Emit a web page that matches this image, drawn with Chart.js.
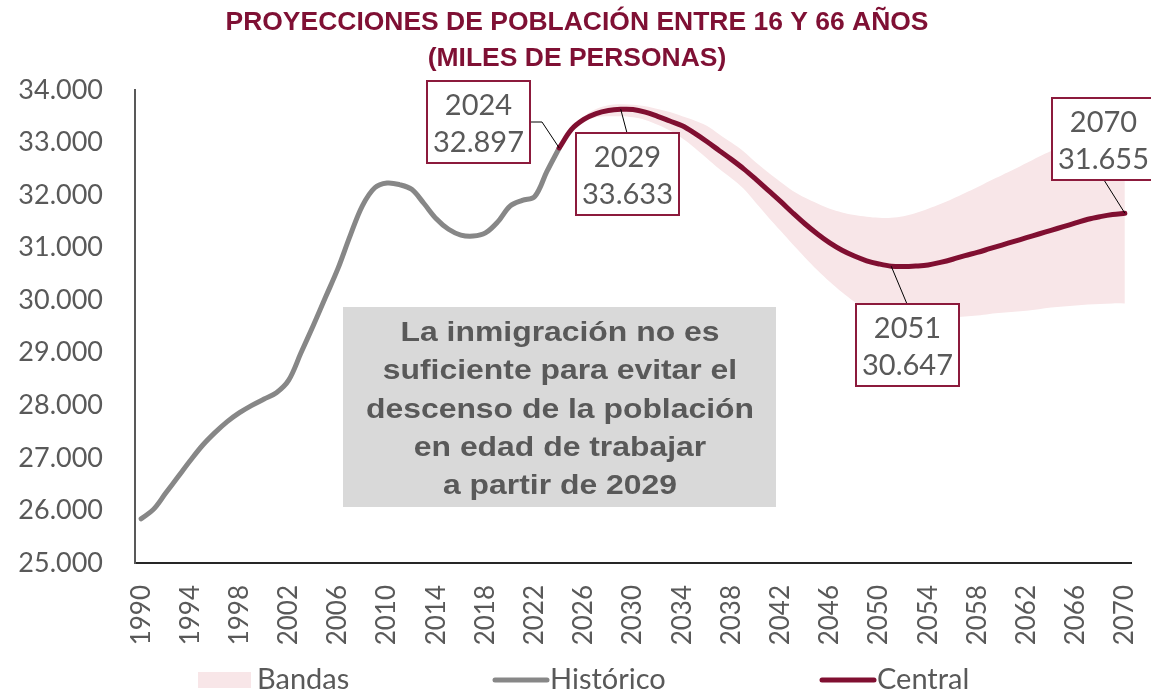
<!DOCTYPE html>
<html>
<head>
<meta charset="utf-8">
<script src="https://cdn.jsdelivr.net/npm/chart.js@4.4.1/dist/chart.umd.min.js"></script>
<style>
  body { margin: 0; background: #fff; }
  #wrap { width: 1151px; height: 691px; position: relative; }
</style>
</head>
<body>
<div id="wrap"><canvas id="poblacion"></canvas></div>
<script>
// anios del eje
var years = [1990, 1991, 1992, 1993, 1994, 1995, 1996, 1997, 1998, 1999,
             2000, 2001, 2002, 2003, 2004, 2005, 2006, 2007, 2008, 2009,
             2010, 2011, 2012, 2013, 2014, 2015, 2016, 2017, 2018, 2019,
             2020, 2021, 2022, 2023, 2024, 2025, 2026, 2027, 2028, 2029,
             2030, 2031, 2032, 2033, 2034, 2035, 2036, 2037, 2038, 2039,
             2040, 2041, 2042, 2043, 2044, 2045, 2046, 2047, 2048, 2049,
             2050, 2051, 2052, 2053, 2054, 2055, 2056, 2057, 2058, 2059,
             2060, 2061, 2062, 2063, 2064, 2065, 2066, 2067, 2068, 2069, 2070];

// Historico 1990-2024 (miles de personas)
var historico = [25840, 26020, 26330, 26640, 26950, 27240, 27480, 27690, 27860, 28000,
                 28120, 28240, 28480, 29000, 29520, 30060, 30600, 31230, 31800, 32140,
                 32230, 32200, 32110, 31840, 31550, 31350, 31240, 31220, 31280, 31490,
                 31790, 31900, 31970, 32450, 32897];

// Escenario central 2024-2070
var central = [32897, 33250, 33440, 33550, 33610, 33633, 33630, 33580, 33500, 33410,
               33320, 33180, 33020, 32850, 32680, 32500, 32300, 32090, 31880, 31660,
               31450, 31260, 31090, 30950, 30840, 30750, 30690, 30647, 30640, 30650,
               30670, 30720, 30780, 30850, 30910, 30980, 31050, 31120, 31190, 31260,
               31330, 31400, 31470, 31540, 31590, 31630, 31655];

// Bandas 2024-2070
var bandaSup = [32897, 33280, 33500, 33640, 33710, 33730, 33720, 33690, 33640, 33580,
                33500, 33420, 33320, 33160, 33000, 32830, 32620, 32430, 32250, 32080,
                31950, 31840, 31740, 31670, 31620, 31590, 31570, 31570, 31600, 31660,
                31740, 31830, 31930, 32040, 32150, 32270, 32380, 32490, 32610, 32730,
                32840, 32950, 33050, 33130, 33190, 33240, 33270];
var bandaInf = [32897, 33220, 33400, 33480, 33500, 33500, 33480, 33430, 33340, 33230,
                33080, 32900, 32700, 32500, 32320, 32120, 31850, 31580, 31320, 31060,
                30810, 30570, 30350, 30150, 29970, 29820, 29710, 29650, 29630, 29630,
                29640, 29660, 29670, 29690, 29710, 29740, 29760, 29780, 29800, 29830,
                29860, 29880, 29900, 29920, 29930, 29940, 29940];

// etiquetas de datos
var etiquetasAnios = [2024, 2029, 2051, 2070];
var etiquetasTexto = ['32.897', '33.633', '30.647', '31.655'];

var granate = '#800f31';
var gris = '#878787';
var rosa = '#f8e6e8';
var textoGris = '#595959';

function rellenar(valores, desde) {
  var out = [];
  for (var i = 0; i < years.length; i++) {
    var k = years[i] - desde;
    out.push(k >= 0 && k < valores.length ? valores[k] : null);
  }
  return out;
}

function miles(v) {
  return String(v).replace(/\B(?=(\d{3})+(?!\d))/g, '.');
}

// titulo, recuadro de texto, etiquetas y leyenda
var dibujos = {
  id: 'dibujos',
  afterDraw: function (chart) {
    var ctx = chart.ctx;
    var xs = chart.scales.x, ys = chart.scales.y;

    // titulo
    ctx.save();
    ctx.fillStyle = '#7f1034';
    ctx.font = 'bold 25.5px "Liberation Sans", Arial, sans-serif';
    ctx.textAlign = 'center';
    ctx.textBaseline = 'alphabetic';
    var t1 = 'PROYECCIONES DE POBLACIÓN ENTRE 16 Y 66 AÑOS';
    var t2 = '(MILES DE PERSONAS)';
    var esc = 703 / ctx.measureText(t1).width;
    ctx.translate(577, 0);
    ctx.scale(esc, 1);
    ctx.fillText(t1, 0, 30);
    ctx.fillText(t2, 0, 66);
    ctx.restore();

    // recuadro gris
    ctx.save();
    ctx.fillStyle = '#d9d9d9';
    ctx.fillRect(343, 307, 433, 200);
    ctx.fillStyle = textoGris;
    ctx.font = 'bold 28px "Liberation Sans", Arial, sans-serif';
    ctx.textAlign = 'center';
    var lineas = ['La inmigración no es', 'suficiente para evitar el',
                  'descenso de la población', 'en edad de trabajar', 'a partir de 2029'];
    var escB = 388 / ctx.measureText(lineas[2]).width;
    ctx.translate(560, 0);
    ctx.scale(escB, 1);
    for (var i = 0; i < lineas.length; i++) {
      ctx.fillText(lineas[i], 0, 341 + i * 38.3);
    }
    ctx.restore();

    // etiquetas con linea guia
    var cajas = [
      {x: 427, y: 81, ax: 530, ay: 122, codo: 542},
      {x: 576, y: 133, ax: 627, ay: 133},
      {x: 856, y: 304, ax: 907, ay: 304},
      {x: 1052, y: 98, ax: 1104, ay: 180}
    ];
    for (var j = 0; j < etiquetasAnios.length; j++) {
      var idx = years.indexOf(etiquetasAnios[j]);
      var val = central[etiquetasAnios[j] - 2024];
      var px = xs.getPixelForValue(idx), py = ys.getPixelForValue(val);
      var c = cajas[j];
      ctx.save();
      ctx.strokeStyle = '#000';
      ctx.lineWidth = 1;
      ctx.beginPath();
      ctx.moveTo(c.ax, c.ay);
      if (c.codo) ctx.lineTo(c.codo, c.ay);
      ctx.lineTo(px, py);
      ctx.stroke();
      ctx.fillStyle = '#fff';
      ctx.fillRect(c.x, c.y, 103, 82);
      ctx.strokeStyle = '#8c1a3c';
      ctx.lineWidth = 2;
      ctx.strokeRect(c.x, c.y, 103, 82);
      ctx.fillStyle = textoGris;
      ctx.font = '29px Lato, sans-serif';
      ctx.textAlign = 'center';
      ctx.fillText(String(etiquetasAnios[j]), c.x + 51.5, c.y + 34);
      ctx.fillText(etiquetasTexto[j], c.x + 51.5, c.y + 71);
      ctx.restore();
    }

    // leyenda
    ctx.save();
    ctx.font = '29px Lato, sans-serif';
    ctx.fillStyle = rosa;
    ctx.fillRect(198, 672, 53, 16);
    ctx.lineCap = 'round';
    ctx.lineWidth = 5;
    ctx.strokeStyle = gris;
    ctx.beginPath(); ctx.moveTo(495, 680); ctx.lineTo(547, 680); ctx.stroke();
    ctx.strokeStyle = granate;
    ctx.beginPath(); ctx.moveTo(822, 680); ctx.lineTo(874, 680); ctx.stroke();
    ctx.fillStyle = textoGris;
    ctx.textAlign = 'left';
    ctx.fillText('Bandas', 257, 689);
    ctx.fillText('Histórico', 550, 689);
    ctx.fillText('Central', 877, 689);
    ctx.restore();
  }
};

var chartdata = {
  labels: years,
  datasets: [
    {
      label: 'Central',
      data: rellenar(central, 2024),
      borderColor: granate,
      borderWidth: 5,
      tension: 0.35,
      fill: false,
      order: 0
    },
    {
      label: 'Histórico',
      data: rellenar(historico, 1990),
      borderColor: gris,
      borderWidth: 5,
      tension: 0.35,
      fill: false,
      order: 1
    },
    {
      label: 'Bandas',
      data: rellenar(bandaSup, 2024),
      borderWidth: 0,
      borderColor: 'rgba(0,0,0,0)',
      backgroundColor: rosa,
      tension: 0.35,
      fill: '+1',
      order: 2
    },
    {
      label: 'Bandas inf',
      data: rellenar(bandaInf, 2024),
      borderWidth: 0,
      borderColor: 'rgba(0,0,0,0)',
      tension: 0.35,
      fill: false,
      order: 3
    }
  ]
};

var graph = new Chart(document.getElementById('poblacion'), {
  type: 'line',
  data: chartdata,
  options: {
    responsive: true,
    maintainAspectRatio: false,
    animation: false,
    layout: { padding: { top: 90, right: 20, left: 0, bottom: 0 } },
    elements: { point: { radius: 0 }, line: { borderCapStyle: 'round', borderJoinStyle: 'round' } },
    plugins: {
      legend: { display: false },
      title: { display: false },
      tooltip: { enabled: false }
    },
    scales: {
      x: {
        offset: true,
        grid: { display: false, drawTicks: false },
        border: { display: true, color: '#262626', width: 2 },
        ticks: {
          autoSkip: false,
          maxRotation: 90,
          minRotation: 90,
          padding: 22,
          color: textoGris,
          font: { family: 'Lato', size: 26 },
          callback: function (v, i) {
            return (years[i] - 1990) % 4 === 0 ? String(years[i]) : '';
          }
        },
        afterFit: function (s) {
          s.height = 128;
          s.paddingLeft = 0;
          s.paddingRight = 0;
        }
      },
      y: {
        min: 25000,
        max: 34000,
        grid: { display: false, drawTicks: false },
        border: { display: true, color: textoGris, width: 2 },
        ticks: {
          stepSize: 1000,
          padding: 32,
          color: textoGris,
          font: { family: 'Lato', size: 27 },
          callback: function (v) { return miles(v); }
        },
        afterFit: function (s) { s.width = 135; }
      }
    }
  },
  plugins: [dibujos]
});
</script>
</body>
</html>
